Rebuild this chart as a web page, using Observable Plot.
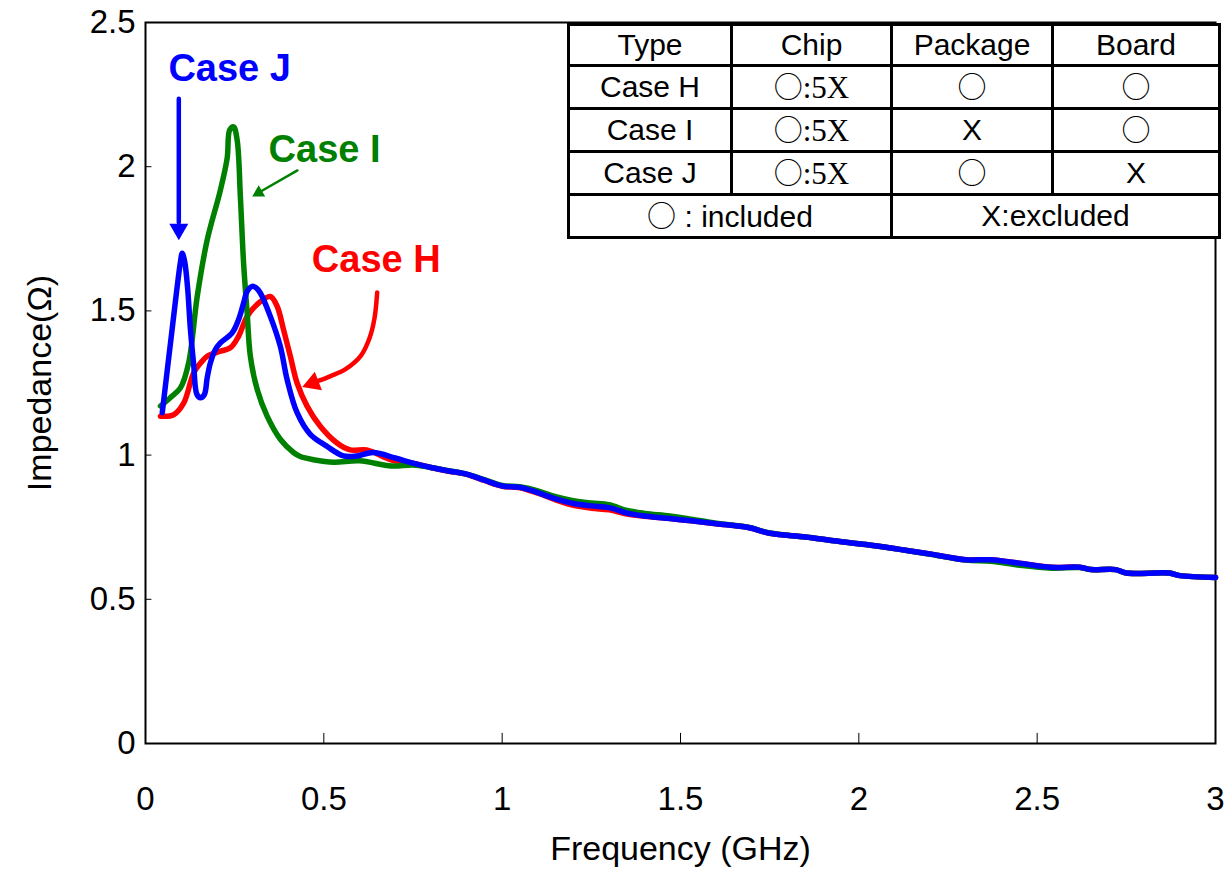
<!DOCTYPE html>
<html>
<head>
<meta charset="utf-8">
<script src="https://cdn.jsdelivr.net/npm/d3@7"></script>
<script src="https://cdn.jsdelivr.net/npm/@observablehq/plot@0.6"></script>
<style>
  html, body { margin: 0; padding: 0; background: #fff; }
  #wrap { position: relative; width: 1229px; height: 882px; font-family: "Liberation Sans", Arial, sans-serif; }
  #wrap svg { position: absolute; left: 0; top: 0; }
  table.cases {
    position: absolute; left: 567px; top: 23px; width: 651px; height: 216px;
    border-collapse: collapse; background: #fff; table-layout: fixed;
    font-family: "Liberation Sans", Arial, sans-serif; font-size: 30px; color: #000;
  }
  table.cases td { border: 3px solid #000; text-align: center; padding: 0; line-height: 1; }
  .circ { font-family: "Noto Sans CJK JP", sans-serif; font-size: 29px; }
  .serif { font-family: "Liberation Serif", "Times New Roman", serif; font-size: 31px; }
</style>
</head>
<body>
<div id="wrap"></div>
<script>
// Axis ticks and their labels
const xTicks = [0, 0.5, 1, 1.5, 2, 2.5, 3];
const xTickLabels = ["0", "0.5", "1", "1.5", "2", "2.5", "3"];
const yTicks = [0, 0.5, 1, 1.5, 2, 2.5];
const yTickLabels = ["0", "0.5", "1", "1.5", "2", "2.5"];

// Impedance (Ω) against frequency (GHz), one [freq, impedance] list per case
const caseH = [
  [0.042, 1.135], [0.079, 1.14], [0.107, 1.18], [0.135, 1.285], [0.155, 1.32],
  [0.173, 1.343], [0.21, 1.36], [0.238, 1.372], [0.261, 1.412], [0.285, 1.481],
  [0.317, 1.527], [0.35, 1.55], [0.369, 1.516], [0.387, 1.435], [0.406, 1.343],
  [0.425, 1.25], [0.453, 1.17], [0.49, 1.10], [0.536, 1.043], [0.574, 1.018],
  [0.62, 1.018], [0.675, 0.99], [0.70, 0.98],
  [0.75, 0.972], [0.80, 0.957], [0.85, 0.944], [0.90, 0.933], [0.95, 0.912],
  [1.00, 0.892], [1.05, 0.887], [1.10, 0.868], [1.15, 0.845], [1.20, 0.826],
  [1.25, 0.816], [1.30, 0.810], [1.35, 0.796], [1.40, 0.788], [1.47, 0.780],
  [1.53, 0.772], [1.60, 0.762], [1.69, 0.749], [1.75, 0.729], [1.85, 0.716],
  [1.93, 0.703], [2.02, 0.690], [2.11, 0.674], [2.20, 0.657], [2.30, 0.637],
  [2.37, 0.637], [2.45, 0.625], [2.54, 0.611], [2.62, 0.611], [2.65, 0.603],
  [2.72, 0.603], [2.75, 0.591], [2.87, 0.591], [2.90, 0.582], [3.00, 0.576]
];
const caseI = [
  [0.042, 1.17], [0.07, 1.20], [0.098, 1.233], [0.121, 1.32], [0.145, 1.55],
  [0.173, 1.746], [0.21, 1.919], [0.229, 2.03], [0.236, 2.127], [0.247, 2.138],
  [0.257, 2.092], [0.266, 1.896], [0.275, 1.666], [0.285, 1.493], [0.294, 1.343],
  [0.313, 1.228], [0.341, 1.135], [0.378, 1.055], [0.415, 1.009], [0.434, 0.995],
  [0.471, 0.984], [0.527, 0.975], [0.60, 0.98], [0.69, 0.962],
  [0.75, 0.966], [0.80, 0.957], [0.85, 0.946], [0.90, 0.934], [0.95, 0.915],
  [1.00, 0.895], [1.05, 0.890], [1.10, 0.876], [1.15, 0.856], [1.20, 0.842],
  [1.25, 0.834], [1.30, 0.828], [1.35, 0.808], [1.40, 0.798], [1.47, 0.789],
  [1.53, 0.778], [1.60, 0.764], [1.69, 0.750], [1.75, 0.730], [1.85, 0.716],
  [1.93, 0.703], [2.02, 0.690], [2.11, 0.674], [2.20, 0.656], [2.30, 0.636],
  [2.37, 0.632], [2.45, 0.618], [2.54, 0.608], [2.62, 0.610], [2.65, 0.603],
  [2.72, 0.603], [2.75, 0.591], [2.87, 0.591], [2.90, 0.582], [3.00, 0.576]
];
const caseJ = [
  [0.047, 1.147], [0.075, 1.44], [0.098, 1.67], [0.103, 1.70], [0.110, 1.67],
  [0.118, 1.58], [0.126, 1.435], [0.135, 1.315], [0.144, 1.211], [0.154, 1.199],
  [0.165, 1.21], [0.173, 1.268], [0.182, 1.32], [0.196, 1.366], [0.21, 1.389],
  [0.243, 1.424], [0.261, 1.47], [0.275, 1.527], [0.285, 1.568], [0.299, 1.585],
  [0.31, 1.58], [0.322, 1.562], [0.35, 1.481], [0.378, 1.377], [0.397, 1.262],
  [0.425, 1.147], [0.462, 1.072], [0.508, 1.031], [0.555, 0.997], [0.592, 0.997],
  [0.639, 1.009], [0.70, 0.99],
  [0.75, 0.972], [0.80, 0.957], [0.85, 0.945], [0.90, 0.934], [0.95, 0.913],
  [1.00, 0.893], [1.05, 0.888], [1.10, 0.870], [1.15, 0.848], [1.20, 0.832],
  [1.25, 0.824], [1.30, 0.818], [1.35, 0.799], [1.40, 0.789], [1.47, 0.780],
  [1.53, 0.772], [1.60, 0.762], [1.69, 0.749], [1.75, 0.729], [1.85, 0.716],
  [1.93, 0.703], [2.02, 0.690], [2.11, 0.674], [2.20, 0.657], [2.30, 0.637],
  [2.37, 0.637], [2.45, 0.625], [2.54, 0.611], [2.62, 0.611], [2.65, 0.603],
  [2.72, 0.603], [2.75, 0.591], [2.87, 0.591], [2.90, 0.582], [3.00, 0.576]
];

// Case table shown in the upper right
const tableHeader = ["Type", "Chip", "Package", "Board"];
const tableRows = [
  ["Case H", "○:5X", "○", "○"],
  ["Case I", "○:5X", "X", "○"],
  ["Case J", "○:5X", "○", "X"]
];
const tableFooter = ["○ : included", "X:excluded"];

const RED = "#ff0000", GREEN = "#008000", BLUE = "#0000ff";

const toRows = (pts) => pts.map(([f, z]) => ({f, z}));

// Callout labels and their arrows
const labels = [
  {f: 0.236, z: 2.338, text: "Case J", color: BLUE},
  {f: 0.502, z: 2.058, text: "Case I", color: GREEN},
  {f: 0.647, z: 1.678, text: "Case H", color: RED}
];
const arrowJ = [{f: 0.0934, z: 2.236}, {f: 0.0934, z: 1.807}];
const arrowI = [{f: 0.426, z: 1.987}, {f: 0.3266, z: 1.9166}];
const arrowH = [
  {f: 0.6496, z: 1.564}, {f: 0.642, z: 1.474}, {f: 0.628, z: 1.405}, {f: 0.603, z: 1.343},
  {f: 0.561, z: 1.298}, {f: 0.519, z: 1.274}, {f: 0.484, z: 1.257}
];
// filled arrowheads (triangle centroids)
const headJ = [{f: 0.0934, z: 1.783}];
const headI = [{f: 0.3174, z: 1.910}];
const headH = [{f: 0.4696, z: 1.250}];

const lineOpts = {x: "f", y: "z", strokeWidth: 5.5, curve: "catmull-rom", strokeLinejoin: "round", strokeLinecap: "round"};

const chart = Plot.plot({
  width: 1229,
  height: 882,
  marginLeft: 145,
  marginRight: 14,
  marginTop: 22,
  marginBottom: 139,
  style: {fontFamily: "'Liberation Sans', Arial, sans-serif", background: "transparent", color: "#000"},
  x: {domain: [0, 3]},
  y: {domain: [0, 2.5]},
  marks: [
    Plot.frame({stroke: "#000", strokeWidth: 2}),
    Plot.ruleX(xTicks.slice(1, -1), {y1: 0, y2: 0.035, stroke: "#000", strokeWidth: 1}),
    Plot.ruleY(yTicks.slice(1, -1), {x1: 0, x2: 0.018, stroke: "#000", strokeWidth: 1}),
    Plot.axisX(xTicks, {tickSize: 0, tickPadding: 43, fontSize: 33, label: null,
      tickFormat: (d) => xTickLabels[xTicks.indexOf(d)]}),
    Plot.axisY(yTicks, {tickSize: 0, tickPadding: 10, fontSize: 33, label: null,
      tickFormat: (d) => yTickLabels[yTicks.indexOf(d)]}),
    Plot.text(["Frequency (GHz)"], {frameAnchor: "bottom", dy: 116, fontSize: 34, fill: "#000"}),
    Plot.text(["Impedance(Ω)"], {frameAnchor: "left", textAnchor: "middle", dx: -105, rotate: -90, fontSize: 34, fill: "#000"}),
    Plot.line(toRows(caseH), {...lineOpts, stroke: RED}),
    Plot.line(toRows(caseI), {...lineOpts, stroke: GREEN}),
    Plot.line(toRows(caseJ), {...lineOpts, stroke: BLUE}),
    Plot.line(arrowJ, {x: "f", y: "z", stroke: BLUE, strokeWidth: 4.5}),
    Plot.line(arrowI, {x: "f", y: "z", stroke: GREEN, strokeWidth: 2.5}),
    Plot.line(arrowH, {x: "f", y: "z", stroke: RED, strokeWidth: 4.5, curve: "catmull-rom"}),
    Plot.dot(headJ, {x: "f", y: "z", r: 7.05, rotate: 180, symbol: "triangle", fill: BLUE, stroke: null}),
    Plot.dot(headI, {x: "f", y: "z", r: 4.8, rotate: 240, symbol: "triangle", fill: GREEN, stroke: null}),
    Plot.dot(headH, {x: "f", y: "z", r: 7.4, rotate: 249, symbol: "triangle", fill: RED, stroke: null}),
    Plot.text(labels, {x: "f", y: "z", text: "text", fill: "color", fontSize: 38, fontWeight: "bold"})
  ]
});
document.getElementById("wrap").appendChild(chart);

// Build the case table
const table = document.createElement("table");
table.className = "cases";
const widths = [163, 160, 161, 167];
const colgroup = document.createElement("colgroup");
widths.forEach(w => { const c = document.createElement("col"); c.style.width = w + "px"; colgroup.appendChild(c); });
table.appendChild(colgroup);

function cellHTML(text) {
  // circles in a CJK face, the ":5X" part in a serif face
  if (text === "○:5X") return '<span class="circ">○</span><span class="serif">:5X</span>';
  if (text === "○") return '<span class="circ">○</span>';
  if (text.startsWith("○")) return '<span class="circ">○</span>' + text.slice(1);
  return text;
}
[tableHeader, ...tableRows].forEach(row => {
  const tr = document.createElement("tr");
  row.forEach(t => { const td = document.createElement("td"); td.innerHTML = cellHTML(t); tr.appendChild(td); });
  table.appendChild(tr);
});
const trF = document.createElement("tr");
tableFooter.forEach(t => {
  const td = document.createElement("td");
  td.colSpan = 2;
  td.innerHTML = cellHTML(t);
  trF.appendChild(td);
});
table.appendChild(trF);
document.getElementById("wrap").appendChild(table);
</script>
</body>
</html>
